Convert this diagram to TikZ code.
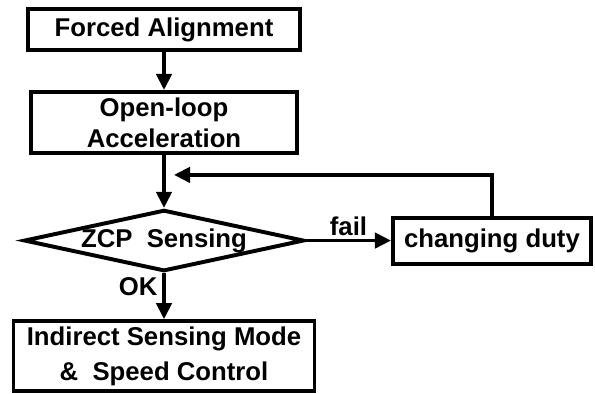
\documentclass[tikz,border=0pt]{standalone}
\usepackage{fontspec}
\setmainfont{Liberation Sans}
\usetikzlibrary{positioning, shapes.geometric, arrows.meta}

\begin{document}
\begin{tikzpicture}[node distance=1cm, auto,
    block/.style={rectangle, draw, line width=2.8pt, align=center, inner sep=0pt, font=\bfseries\fontsize{18.3}{22}\selectfont},
    decision/.style={diamond, draw, line width=2.8pt, aspect=4.45, inner sep=0pt, font=\bfseries\fontsize{18.3}{22}\selectfont},
    arrow/.style={-{Triangle[length=0.4cm, width=0.38cm]}, line width=2.6pt},
    tag/.style={font=\bfseries\fontsize{18.3}{22}\selectfont}]

\useasboundingbox (0,0) rectangle (14.875,-9.85);

% Nodes
\node [block, minimum width=6.8cm, minimum height=1.025cm] (forced) at (4.1,-0.7375) {Forced Alignment};
\node [block, minimum width=6.65cm, minimum height=1.525cm, below=0.95cm of forced] (openloop) {Open-loop\\Acceleration};
\node [decision, minimum width=7.0cm, minimum height=1.5cm, below=1.325cm of openloop] (zcp) {ZCP\ \ Sensing};
\node [block, minimum width=7.525cm, minimum height=1.75cm, below=1.15cm of zcp, font=\bfseries\fontsize{18.3}{24.8}\selectfont] (indirect) {Indirect Sensing Mode\\\&\ \ Speed Control};
\node [block, minimum width=4.95cm, minimum height=1.15cm, right=2.125cm of zcp] (duty) {changing duty};
\coordinate [below=0.5cm of openloop] (join);

% Arrows
\draw [arrow] (forced) -- (openloop);
\draw [arrow] (openloop) -- (zcp);
\draw [arrow] (zcp) -- node [tag, pos=0.3, left] {OK} (indirect);
\draw [arrow] (zcp) -- node [tag, midway, above, inner sep=2pt] {fail} (duty);
\draw [arrow] (duty.north) |- ([xshift=2.5mm]join);

\end{tikzpicture}
\end{document}
